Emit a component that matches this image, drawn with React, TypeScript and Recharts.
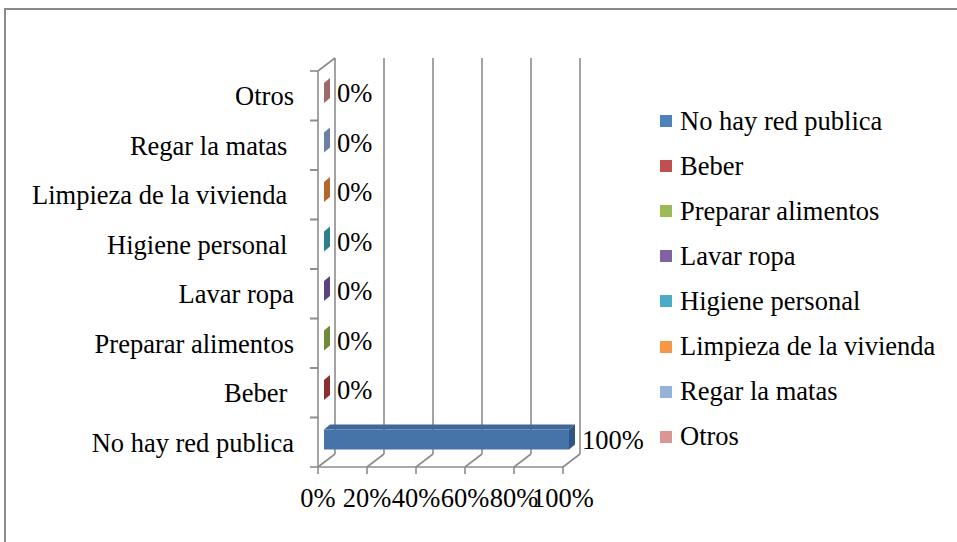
import React from 'react';
import { BarChart, Bar, XAxis, YAxis, CartesianGrid, Legend, LabelList } from 'recharts';

const categories = [
  'No hay red publica',
  'Beber ',
  'Preparar alimentos',
  'Lavar ropa',
  'Higiene personal ',
  'Limpieza de la vivienda ',
  'Regar la matas ',
  'Otros',
];
const values = [100, 0, 0, 0, 0, 0, 0, 0];
const xTicks = [0, 20, 40, 60, 80, 100];

const baseColors = ['#4F81BD', '#C0504D', '#9BBB59', '#8064A2', '#4BACC6', '#F79646', '#95B3D7', '#D99694'];
const sideColors = ['#2f5486', '#8a2f2f', '#6f8a3a', '#5a447f', '#2d7f8f', '#b5672a', '#6a80a6', '#9c6a6a'];

const data = categories.map((name, i) => ({ name, value: values[i] }));

const FONT = '"Liberation Serif", "Times New Roman", serif';
const FS = 26.5;
const GRID = '#8c8c8c';
const BX = 17;
const BY = 13;
const DX = 6;
const DY = 5;
const OX = 6;
const OY = -3;

function shade(hex: string, f: number) {
  const n = parseInt(hex.slice(1), 16);
  const r = Math.round(((n >> 16) & 255) * f);
  const g = Math.round(((n >> 8) & 255) * f);
  const b = Math.round((n & 255) * f);
  return `rgb(${r},${g},${b})`;
}

const Bar3D = (props: any) => {
  const { x, y, width, height, index } = props;
  const fx = x + OX;
  const fy = y + OY;
  const w = Math.max(0, width || 0);
  const base = baseColors[index];
  return (
    <g>
      {w > 0 && (
        <polygon
          points={`${fx},${fy} ${fx + DX},${fy - DY} ${fx + w + DX},${fy - DY} ${fx + w},${fy}`}
          fill={shade(base, 0.8)}
        />
      )}
      {w > 0 && <rect x={fx} y={fy} width={w} height={height} fill={shade(base, 0.89)} />}
      <polygon
        points={`${fx + w},${fy} ${fx + w + DX},${fy - DY} ${fx + w + DX},${fy + height - DY} ${fx + w},${fy + height}`}
        fill={sideColors[index]}
      />
    </g>
  );
};

const GridLine = (p: any) => {
  const { x1, y1, y2, index } = p;
  return (
    <g key={p.key} stroke={GRID} strokeWidth={1.6}>
      <line x1={x1 + BX} y1={y1 - BY} x2={x1 + BX} y2={y2 - BY} />
      <line x1={x1} y1={y2} x2={x1 + BX} y2={y2 - BY} />
      {index === 0 && <line x1={x1} y1={y1} x2={x1 + BX} y2={y1 - BY} />}
    </g>
  );
};

const TICK_MARGIN = 16;
const TICK_SIZE = 8;

const YTick = (p: any) => {
  const { x, y, payload } = p;
  const off = payload.offset || 0;
  const ax = x + TICK_MARGIN + TICK_SIZE;
  return (
    <g>
      <line x1={ax - TICK_SIZE} y1={y - off} x2={ax} y2={y - off} stroke={GRID} strokeWidth={1.6} />
      <line x1={ax - TICK_SIZE} y1={y + off} x2={ax} y2={y + off} stroke={GRID} strokeWidth={1.6} />
      <text
        x={x}
        y={y}
        dy="0.355em"
        textAnchor="end"
        fontFamily={FONT}
        fontSize={FS}
        fill="#000"
        style={{ whiteSpace: 'pre' }}
      >
        {payload.value}
      </text>
    </g>
  );
};

const renderLabel = (p: any) => {
  const { x, y, width, height, value } = p;
  return (
    <text
      x={x + width + 19}
      y={y + height / 2 - 3}
      dominantBaseline="central"
      fontFamily={FONT}
      fontSize={FS}
      fill="#000"
    >
      {value}%
    </text>
  );
};

const LegendContent = () => (
  <div style={{ fontFamily: FONT, fontSize: FS, color: '#000' }}>
    {categories.map((c, i) => (
      <div key={i} style={{ height: 45.1, display: 'flex', alignItems: 'center', whiteSpace: 'nowrap' }}>
        <span
          style={{ width: 12, height: 12, background: baseColors[i], marginRight: 8, display: 'inline-block', flex: 'none' }}
        />
        <span style={{ lineHeight: 1 }}>{c.trim()}</span>
      </div>
    ))}
  </div>
);

export default function App() {
  return (
    <div style={{ position: 'absolute', left: 0, top: 0, width: 957, height: 542, overflow: 'hidden', background: '#fff' }}>
      <div
        style={{
          position: 'absolute',
          left: 4,
          top: 8,
          right: -20,
          bottom: -20,
          borderTop: '2px solid #8a8a8a',
          borderLeft: '2px solid #8a8a8a',
        }}
      />
      <div style={{ position: 'absolute', left: 0, top: 0 }}>
        <BarChart
          width={957}
          height={542}
          layout="vertical"
          data={data}
          margin={{ top: 71, right: 394, bottom: 15, left: 0 }}
          barSize={20}
        >
          <CartesianGrid horizontal={false} vertical={GridLine} />
          <XAxis
            type="number"
            domain={[0, 100]}
            ticks={xTicks}
            interval={0}
            tickFormatter={(v: number) => `${v}%`}
            height={60}
            tickSize={7}
            tickMargin={14}
            stroke={GRID}
            axisLine={{ stroke: GRID, strokeWidth: 1.6 }}
            tickLine={{ stroke: GRID, strokeWidth: 1.6 }}
            tick={{ fill: '#000', fontSize: FS, fontFamily: FONT }}
          />
          <YAxis
            type="category"
            dataKey="name"
            reversed
            width={318}
            interval={0}
            tickSize={TICK_SIZE}
            tickMargin={TICK_MARGIN}
            tickLine={false}
            axisLine={{ stroke: GRID, strokeWidth: 1.6 }}
            tick={YTick}
          />
          <Legend
            layout="horizontal"
            align="center"
            verticalAlign="middle"
            content={LegendContent}
            wrapperStyle={{ left: 660, top: 98.5, width: 290 }}
          />
          <Bar dataKey="value" shape={Bar3D} isAnimationActive={false}>
            <LabelList dataKey="value" content={renderLabel} />
          </Bar>
        </BarChart>
      </div>
    </div>
  );
}
